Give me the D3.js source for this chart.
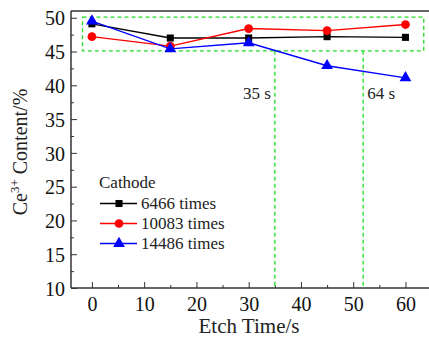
<!DOCTYPE html>
<html>
<head>
<meta charset="utf-8">
<script src="https://cdn.jsdelivr.net/npm/d3@7.9.0/dist/d3.min.js"></script>
<style>
  body { margin: 0; background: #fff; }
</style>
</head>
<body>
<svg id="chart" width="429" height="342"></svg>
<script>
// data
const etchTimes = [0, 15, 30, 45, 60];
const series6466 = [49.1, 47.0, 47.0, 47.2, 47.1];
const series10083 = [47.2, 45.8, 48.4, 48.1, 49.0];
const series14486 = [49.5, 45.4, 46.3, 42.9, 41.1];
const seriesNames = ['6466 times', '10083 times', '14486 times'];
const xTicks = [0, 10, 20, 30, 40, 50, 60];
const yTicks = [10, 15, 20, 25, 30, 35, 40, 45, 50];
const markLines = [{ at: 35, label: '35 s' }, { at: 51.9, label: '64 s' }];
const boxRange = { x0: -1.8, x1: 63.5, y0: 45.1, y1: 50.1 };

const svg = d3.select('#chart');
const plotTop = 11, plotBottom = 288, plotLeft = 71;
const serif = 'Times New Roman, Tinos, Liberation Serif, DejaVu Serif, serif';

let x = d3.scaleLinear().domain([-4, 65]).range([71, 431.6]);
let y = d3.scaleLinear().domain([10, 51]).range([plotBottom, plotTop]);

const axisColor = '#333';

// top border
svg.append('line')
  .attr('x1', plotLeft).attr('x2', 429)
  .attr('y1', plotTop).attr('y2', plotTop)
  .attr('stroke', axisColor).attr('stroke-width', 1.5);

// minor ticks
svg.append('g')
  .attr('transform', `translate(0,${plotBottom})`)
  .call(d3.axisBottom(x).tickValues(d3.range(5, 65, 10)).tickSize(-3).tickFormat(''))
  .call(g => g.select('.domain').remove())
  .selectAll('line').attr('stroke', axisColor).attr('stroke-width', 1);
svg.append('g')
  .attr('transform', `translate(${plotLeft},0)`)
  .call(d3.axisLeft(y).tickValues(d3.range(12.5, 50, 5)).tickSize(-3).tickFormat(''))
  .call(g => g.select('.domain').remove())
  .selectAll('line').attr('stroke', axisColor).attr('stroke-width', 1);

// major axes
let xAxis = svg.append('g')
  .attr('transform', `translate(0,${plotBottom})`)
  .call(d3.axisBottom(x).tickValues(xTicks).tickSizeInner(-6).tickSizeOuter(0).tickPadding(9));
let yAxis = svg.append('g')
  .attr('transform', `translate(${plotLeft},0)`)
  .call(d3.axisLeft(y).tickValues(yTicks).tickSizeInner(-6).tickSizeOuter(0).tickPadding(6));

[xAxis, yAxis].forEach(g => {
  g.attr('font-family', serif).attr('font-size', 20);
  g.select('.domain').attr('stroke', axisColor).attr('stroke-width', 1.5);
  g.selectAll('.tick line').attr('stroke', axisColor).attr('stroke-width', 1);
  g.selectAll('text').attr('fill', '#111');
});
yAxis.select('.domain').attr('d', `M0,${plotTop}V${plotBottom}`);
xAxis.select('.domain').attr('d', `M${plotLeft},0H429`);
yAxis.selectAll('text').attr('dy', '0.36em');

// green dashed box and markers
const green = '#22dd22';
svg.append('rect')
  .attr('x', x(boxRange.x0)).attr('y', y(boxRange.y1))
  .attr('width', x(boxRange.x1) - x(boxRange.x0))
  .attr('height', y(boxRange.y0) - y(boxRange.y1))
  .attr('fill', 'none').attr('stroke', green)
  .attr('stroke-width', 1.3).attr('stroke-dasharray', '4,3');

markLines.forEach(m => {
  svg.append('line')
    .attr('x1', x(m.at)).attr('x2', x(m.at))
    .attr('y1', y(boxRange.y0)).attr('y2', plotBottom)
    .attr('stroke', green).attr('stroke-width', 1.3).attr('stroke-dasharray', '4,3');
});
svg.append('text').attr('x', x(markLines[0].at) - 4).attr('y', 99)
  .attr('font-family', serif)
  .attr('text-anchor', 'end').attr('font-size', 17).attr('fill', '#222').text(markLines[0].label);
svg.append('text').attr('x', x(markLines[1].at) + 4).attr('y', 99)
  .attr('font-family', serif)
  .attr('font-size', 17).attr('fill', '#222').text(markLines[1].label);

// series
const colors = ['#000000', '#ff0000', '#0000ff'];
const symbols = [d3.symbolSquare, d3.symbolCircle, d3.symbolTriangle];
const symSizes = [50, 60, 60];
const allSeries = [series6466, series10083, series14486];

let line = d3.line().x((d, i) => x(etchTimes[i])).y(d => y(d));

allSeries.forEach((vals, s) => {
  svg.append('path')
    .attr('d', line(vals))
    .attr('fill', 'none').attr('stroke', colors[s]).attr('stroke-width', 1.4);
  vals.forEach((v, i) => {
    svg.append('path')
      .attr('d', d3.symbol().type(symbols[s]).size(symSizes[s])())
      .attr('transform', `translate(${x(etchTimes[i])},${y(v)})`)
      .attr('fill', colors[s]);
  });
});

// legend
const legend = svg.append('g').attr('font-family', serif);
legend.append('text').attr('x', 99).attr('y', 188)
  .attr('font-size', 17).attr('fill', '#222').text('Cathode');
seriesNames.forEach((name, s) => {
  const ly = 203.5 + s * 20;
  legend.append('line').attr('x1', 100).attr('x2', 137).attr('y1', ly).attr('y2', ly)
    .attr('stroke', colors[s]).attr('stroke-width', 1.4);
  legend.append('path')
    .attr('d', d3.symbol().type(symbols[s]).size(symSizes[s])())
    .attr('transform', `translate(119,${ly})`)
    .attr('fill', colors[s]);
  legend.append('text').attr('x', 141).attr('y', ly + 5.5)
    .attr('font-size', 17).attr('fill', '#222').text(name);
});

// axis titles
svg.append('text')
  .attr('x', 249).attr('y', 333)
  .attr('font-family', serif)
  .attr('text-anchor', 'middle').attr('font-size', 21).attr('fill', '#222')
  .text('Etch Time/s');

const yTitle = svg.append('text')
  .attr('transform', 'translate(27,152) rotate(-90)')
  .attr('font-family', serif)
  .attr('text-anchor', 'middle').attr('font-size', 20).attr('fill', '#222');
yTitle.append('tspan').text('Ce');
yTitle.append('tspan').attr('font-size', 13).attr('dy', -8).text('3+');
yTitle.append('tspan').attr('dy', 8).text(' Content/%');
</script>
</body>
</html>
